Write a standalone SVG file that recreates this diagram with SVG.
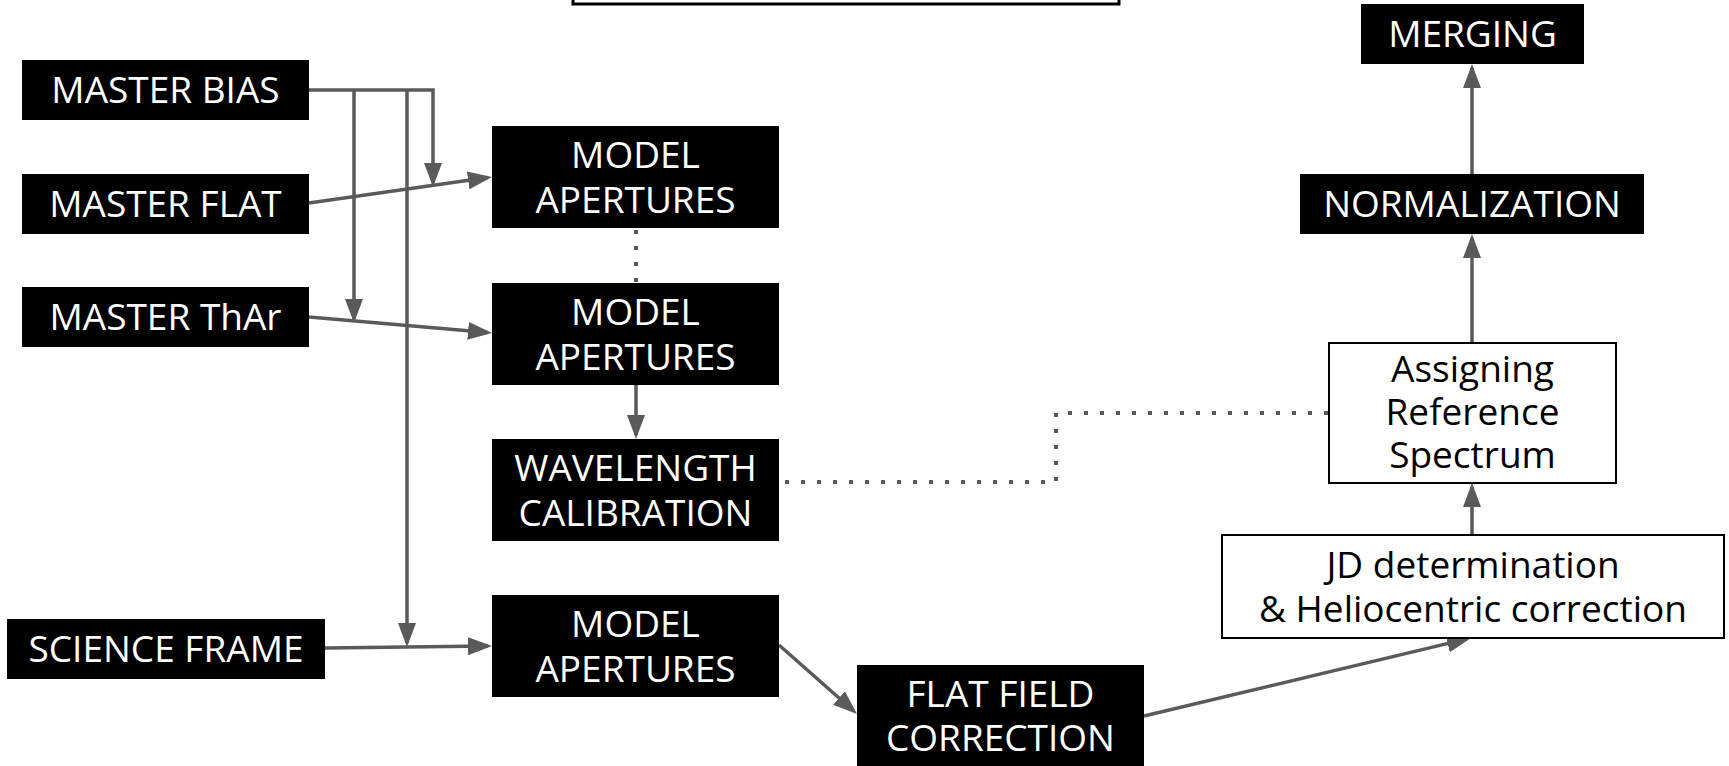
<svg xmlns="http://www.w3.org/2000/svg" width="1729" height="766" viewBox="0 0 1729 766">
<style>
.dark{fill:#000}
.light{fill:#fff;stroke:#000;stroke-width:2}
.wt{fill:#fff;font-family:"Open Sans","Liberation Sans",sans-serif;font-size:37px;text-anchor:middle}
.bt{fill:#000;font-family:"Open Sans","Liberation Sans",sans-serif;font-size:37px;text-anchor:middle}
.con{fill:none;stroke:#5a5a5a;stroke-width:3.5}
.dot{fill:none;stroke:#5a5a5a;stroke-width:4;stroke-dasharray:4 12}
</style>
<defs>
<marker id="ah" markerUnits="userSpaceOnUse" markerWidth="24" markerHeight="18" refX="20" refY="9" orient="auto" viewBox="0 0 24 18">
<path d="M0,0 L24,9 L0,18 Z" fill="#5a5a5a"/>
</marker>
</defs>
<rect width="1729" height="766" fill="#fff"/>
<g id="title-box"><rect x="573" y="-40" width="546" height="44" fill="#fff" stroke="#000" stroke-width="3"/></g>
<g id="connectors">
<path class="con" d="M309,90 H433 V183" marker-end="url(#ah)"/>
<path class="con" d="M354,90 V319" marker-end="url(#ah)"/>
<path class="con" d="M407,90 V643" marker-end="url(#ah)"/>
<path class="con" d="M309,203 L488,177.6" marker-end="url(#ah)"/>
<path class="con" d="M309,317 L488,332.6" marker-end="url(#ah)"/>
<path class="con" d="M325,648 L488,646" marker-end="url(#ah)"/>
<path class="con" d="M636,385 V435" marker-end="url(#ah)"/>
<path class="con" d="M779,645 L854,711.3" marker-end="url(#ah)"/>
<path class="con" d="M1144,716 L1467.1,638.9" marker-end="url(#ah)"/>
<path class="con" d="M1472,535 V487" marker-end="url(#ah)"/>
<path class="con" d="M1472,343 V238" marker-end="url(#ah)"/>
<path class="con" d="M1472,174 V68" marker-end="url(#ah)"/>
<path class="dot" d="M636,230 V283"/>
<path class="dot" d="M785,482 H1056 V413 H1329"/>
</g>
<g id="master-bias"><rect class="dark" x="22" y="60" width="287" height="60"/><text class="wt" x="165.5" y="103">MASTER BIAS</text></g>
<g id="master-flat"><rect class="dark" x="22" y="174" width="287" height="60"/><text class="wt" x="165.5" y="217">MASTER FLAT</text></g>
<g id="master-thar"><rect class="dark" x="22" y="287" width="287" height="60"/><text class="wt" x="165.5" y="330">MASTER ThAr</text></g>
<g id="science-frame"><rect class="dark" x="7" y="619" width="318" height="60"/><text class="wt" x="166" y="662">SCIENCE FRAME</text></g>
<g id="model-apertures-1"><rect class="dark" x="492" y="126" width="287" height="102"/><text class="wt" x="635.5" y="168">MODEL</text><text class="wt" x="635.5" y="213">APERTURES</text></g>
<g id="model-apertures-2"><rect class="dark" x="492" y="283" width="287" height="102"/><text class="wt" x="635.5" y="325">MODEL</text><text class="wt" x="635.5" y="370">APERTURES</text></g>
<g id="wavelength-calibration"><rect class="dark" x="492" y="439" width="287" height="102"/><text class="wt" x="635.5" y="481">WAVELENGTH</text><text class="wt" x="635.5" y="526">CALIBRATION</text></g>
<g id="model-apertures-3"><rect class="dark" x="492" y="595" width="287" height="102"/><text class="wt" x="635.5" y="637">MODEL</text><text class="wt" x="635.5" y="682">APERTURES</text></g>
<g id="flat-field-correction"><rect class="dark" x="857" y="665" width="287" height="103"/><text class="wt" x="1000.5" y="707">FLAT FIELD</text><text class="wt" x="1000.5" y="751">CORRECTION</text></g>
<g id="jd-determination"><rect class="light" x="1222" y="535" width="502" height="103"/><text class="bt" x="1473" y="578">JD determination</text><text class="bt" x="1473" y="622">&amp; Heliocentric correction</text></g>
<g id="assigning-reference"><rect class="light" x="1329" y="343" width="287" height="140"/><text class="bt" x="1472.5" y="382">Assigning</text><text class="bt" x="1472.5" y="425">Reference</text><text class="bt" x="1472.5" y="468">Spectrum</text></g>
<g id="normalization"><rect class="dark" x="1300" y="174" width="344" height="60"/><text class="wt" x="1472" y="217">NORMALIZATION</text></g>
<g id="merging"><rect class="dark" x="1361" y="4" width="223" height="60"/><text class="wt" x="1472.5" y="47">MERGING</text></g>
</svg>
